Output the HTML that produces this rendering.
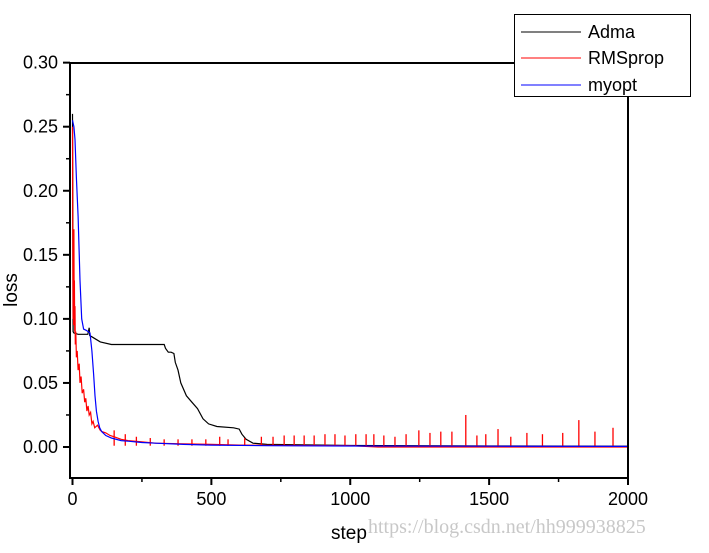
<!DOCTYPE html>
<html><head><meta charset="utf-8"><style>
body{margin:0;background:#fff;width:709px;height:548px;overflow:hidden}
svg text{font-family:"Liberation Sans",Arial,sans-serif}
</style></head><body>
<svg id="chart" width="709" height="548">
<g id="plot"></g>
<g id="axes"></g>
<text x="349" y="539" font-size="19" text-anchor="middle">step</text>
<text transform="translate(17,290) rotate(-90)" font-size="19" text-anchor="middle">loss</text>
<text x="368" y="533" font-size="20" fill="#c8c8c8" style="font-family:'Liberation Serif',serif">https://blog.csdn.net/hh999938825</text>
<g>
<rect x="514.5" y="14.5" width="176" height="82" fill="#fff" stroke="#000"/>
<g><line x1="521" y1="32" x2="581" y2="32" stroke="#000"/><text x="588" y="38" font-size="18">Adma</text></g>
<g><line x1="521" y1="58" x2="581" y2="58" stroke="#f00"/><text x="588" y="64" font-size="18">RMSprop</text></g>
<g><line x1="521" y1="85" x2="581" y2="85" stroke="#00f"/><text x="588" y="91" font-size="18">myopt</text></g>
</g>
</svg>
<script>
const xTicks=[0,500,1000,1500,2000];
const yTicks=[0.00,0.05,0.10,0.15,0.20,0.25,0.30];
const admaSteps=[0,2,5,20,55,60,62,70,100,140,330,335,345,355,365,370,380,390,410,430,450,470,490,520,580,600,610,625,650,700,1000,1500,2000];
const admaVals=[0.26,0.09,0.089,0.088,0.088,0.093,0.087,0.086,0.082,0.080,0.080,0.077,0.074,0.074,0.073,0.066,0.06,0.05,0.04,0.035,0.03,0.022,0.018,0.016,0.015,0.014,0.010,0.006,0.003,0.002,0.0012,0.0008,0.0006];
const rmsSteps=[0,1,2,3,4,5,6,7,8,9,10,12,14,17,20,24,27,31,35,40,44,48,52,56,60,65,70,74,80,90,100,106,120,135,150,175,200,250,300,400,500,600,800,1000,1100,1500,2000];
const rmsVals=[0.25,0.17,0.1,0.16,0.095,0.17,0.1,0.13,0.09,0.11,0.08,0.09,0.07,0.075,0.06,0.065,0.05,0.055,0.042,0.045,0.035,0.038,0.028,0.032,0.025,0.027,0.018,0.02,0.015,0.017,0.013,0.012,0.011,0.009,0.008,0.006,0.005,0.004,0.003,0.0025,0.002,0.0015,0.0012,0.001,0.0,0.0,0.0];
const spikeSteps=[150,190,230,280,330,380,430,480,530,560,620,680,722,762,798,834,870,909,945,981,1020,1057,1085,1121,1161,1201,1247,1287,1326,1366,1416,1456,1488,1532,1578,1636,1692,1765,1823,1881,1946];
const spikeVals=[0.013,0.01,0.008,0.007,0.006,0.006,0.006,0.006,0.008,0.006,0.007,0.008,0.008,0.009,0.009,0.009,0.009,0.01,0.01,0.009,0.01,0.01,0.01,0.009,0.008,0.01,0.013,0.011,0.012,0.012,0.025,0.009,0.01,0.014,0.008,0.011,0.01,0.011,0.021,0.012,0.015];
const myoptSteps=[0,5,9,14,20,27,33,40,50,63,70,76,81,86,92,98,105,120,140,175,200,250,300,400,500,700,1000,1500,2000];
const myoptVals=[0.255,0.25,0.24,0.21,0.18,0.13,0.1,0.092,0.091,0.089,0.075,0.057,0.04,0.028,0.02,0.015,0.012,0.009,0.007,0.005,0.0045,0.0035,0.003,0.002,0.0015,0.001,0.0008,0.0006,0.0005];

const X0=72.5,X1=628,Y0=447,PER=0.05/64.06;
const xs=v=>X0+(v/2000)*(X1-X0);
const ys=v=>Y0-v/PER;
const NS="http://www.w3.org/2000/svg";
const plot=document.getElementById('plot'),axes=document.getElementById('axes');
function mk(t,a,p){const e=document.createElementNS(NS,t);for(const k in a)e.setAttribute(k,a[k]);p.appendChild(e);return e;}
const clip=mk('clipPath',{id:'cp'},plot);mk('rect',{x:70,y:63,width:558,height:415},clip);
const g=mk('g',{'clip-path':'url(#cp)'},plot);
function line(steps,vals,color,name){
  const p=mk('polyline',{points:steps.map((s,i)=>xs(s).toFixed(1)+','+ys(vals[i]).toFixed(1)).join(' '),fill:'none',stroke:color,'stroke-width':1.2},g);
  
  
}
line(admaSteps,admaVals,'#000','series-adma');
line(rmsSteps,rmsVals,'#f00','series-rmsprop');
spikeSteps.forEach((s,i)=>{
  const l=mk('line',{x1:xs(s),x2:xs(s),y1:ys(0.001),y2:ys(spikeVals[i]),stroke:'#f00','stroke-width':1.3},g);
  
  
});
line(myoptSteps,myoptVals,'#00f','series-myopt');
const f=mk('rect',{x:70,y:63,width:558,height:415,fill:'none',stroke:'#000','stroke-width':2},axes);


xTicks.forEach(t=>{
  mk('line',{x1:xs(t),x2:xs(t),y1:478,y2:485,stroke:'#000','stroke-width':2},axes);
  const tx=mk('text',{x:xs(t),y:505,'font-size':18,'text-anchor':'middle'},axes);tx.textContent=t;
  
  
});
for(let t=250;t<2000;t+=500)mk('line',{x1:xs(t),x2:xs(t),y1:478,y2:482,stroke:'#000','stroke-width':1.5},axes);
yTicks.forEach(t=>{
  mk('line',{x1:63,x2:70,y1:ys(t),y2:ys(t),stroke:'#000','stroke-width':2},axes);
  const tx=mk('text',{x:58,y:ys(t)+6,'font-size':18,'text-anchor':'end'},axes);tx.textContent=t.toFixed(2);
  
  
});
for(let t=0.025;t<0.3;t+=0.05)mk('line',{x1:66,x2:70,y1:ys(t),y2:ys(t),stroke:'#000','stroke-width':1.5},axes);
</script>
</body></html>
